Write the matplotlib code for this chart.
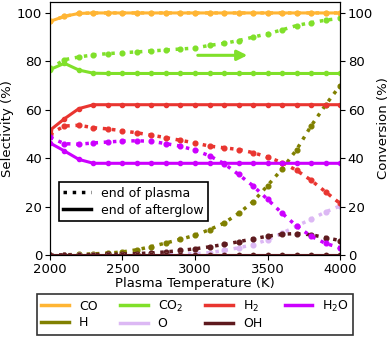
#!/usr/bin/env python

import numpy as np
import matplotlib
matplotlib.use('Agg')
import matplotlib.pyplot as plt
from matplotlib.lines import Line2D

###########################
## data

temps = [2000, 2100, 2200, 2300, 2400, 2500, 2600, 2700, 2800, 2900, 3000,
         3100, 3200, 3300, 3400, 3500, 3600, 3700, 3800, 3900, 4000]

## end of afterglow (solid)
co_after  = [96.5, 98.6, 99.8, 100, 100, 100, 100, 100, 100, 100, 100,
             100, 100, 100, 100, 100, 100, 100, 100, 100, 100]
co2_after = [76.6, 79.2, 76.4, 75.1, 75, 75, 75, 75, 75, 75, 75,
             75, 75, 75, 75, 75, 75, 75, 75, 75, 75]
h2_after  = [51.5, 56.3, 60.5, 62.1, 62.1, 62.1, 62.1, 62.1, 62.1, 62.1, 62.1,
             62.1, 62.1, 62.1, 62.1, 62.1, 62.1, 62.1, 62.1, 62.1, 62.1]
h2o_after = [46.3, 43.0, 39.5, 37.9, 37.9, 37.9, 37.9, 37.9, 37.9, 37.9, 37.9,
             37.9, 37.9, 37.9, 37.9, 37.9, 37.9, 37.9, 37.9, 37.9, 37.9]
h_after   = [0] * 21
o_after   = [0] * 21
oh_after  = [0] * 21

## end of plasma (dotted)
co_plasma  = [96.5, 98.6, 99.8, 100, 100, 100, 100, 100, 100, 100, 100,
              100, 100, 100, 100, 100, 100, 100, 100, 100, 100]
co2_plasma = [77.0, 80.7, 81.8, 82.7, 83.2, 83.6, 83.9, 84.3, 84.7, 85.1, 85.5,
              86.6, 87.4, 88.6, 90.0, 91.4, 93.0, 94.8, 96.0, 97.0, 97.8]
h2_plasma  = [50.0, 53.3, 53.6, 52.6, 52.1, 51.3, 50.5, 49.5, 48.5, 47.4, 46.3,
              45.0, 44.3, 43.6, 42.3, 40.5, 38.2, 35.0, 30.9, 26.1, 21.3]
h2o_plasma = [48.6, 46.0, 45.8, 46.3, 46.7, 47.1, 47.2, 47.0, 46.0, 45.0, 43.3,
              41.0, 37.8, 33.3, 28.6, 23.0, 17.3, 12.0, 7.8, 4.8, 3.0]
h_plasma   = [0.0, 0.1, 0.3, 0.5, 0.8, 1.3, 2.2, 3.5, 5.0, 6.5, 8.2,
              10.5, 13.2, 17.2, 22.0, 28.7, 35.5, 43.5, 53.3, 62.0, 70.0]
o_plasma   = [0.0, 0.0, 0.0, 0.0, 0.0, 0.1, 0.1, 0.2, 0.3, 0.4, 0.6,
              1.0, 1.9, 3.0, 4.3, 6.3, 9.0, 12.0, 14.8, 17.8, 20.3]
oh_plasma  = [0.0, 0.1, 0.1, 0.2, 0.3, 0.4, 0.6, 0.9, 1.3, 1.9, 2.6,
              3.4, 4.4, 5.5, 6.7, 7.8, 8.6, 8.9, 8.4, 7.2, 6.0]

species = ['CO', 'H', 'CO$_2$', 'O', 'H$_2$', 'OH', 'H$_2$O']
colors  = ['#ffb534', '#808000', '#80e02a', '#dcb8f4', '#e93530', '#5e1a1e', '#cc00ff']
after   = [co_after, h_after, co2_after, o_after, h2_after, oh_after, h2o_after]
plasma  = [co_plasma, h_plasma, co2_plasma, o_plasma, h2_plasma, oh_plasma, h2o_plasma]

#############################

fig = plt.figure(figsize=(3.9, 3.41), dpi=100)
ax = fig.add_axes([0.128, 0.252, 0.744, 0.742])
ax2 = ax.twinx()

handles = []
for name, c, ya, yp in zip(species, colors, after, plasma):
    ax.plot(temps, yp, ':', color=c, lw=2.5, marker='o', ms=3.4, zorder=2)
    ax.plot(temps, ya, '-', color=c, lw=2.2, marker='o', ms=3, zorder=3)
    handles.append(Line2D([0], [0], color=c, lw=2.5, label=name))

## arrow pointing to the conversion axis
ax.annotate('', xy=(3380, 82.5), xytext=(3000, 82.5),
            arrowprops=dict(arrowstyle='-|>', color='#80e02a', lw=2.2,
                            mutation_scale=15))

ax.set_xlim(2000, 4000)
ax.set_ylim(0, 104.5)
ax2.set_ylim(0, 104.5)
ax.set_xticks([2000, 2500, 3000, 3500, 4000])
ax.set_yticks([0, 20, 40, 60, 80, 100])
ax2.set_yticks([0, 20, 40, 60, 80, 100])
ax.tick_params(labelsize=9.5, pad=2)
ax2.tick_params(labelsize=9.5, pad=2)

ax.set_xlabel('Plasma Temperature (K)', fontsize=9.5, labelpad=1)
ax.set_ylabel('Selectivity (%)', fontsize=9.5, labelpad=2)
ax2.set_ylabel('Conversion (%)', fontsize=9.5, labelpad=3)

## line style legend
style = [Line2D([0], [0], color='k', ls=':', lw=2.5, label='end of plasma'),
         Line2D([0], [0], color='k', ls='-', lw=2.5, label='end of afterglow')]
leg1 = ax2.legend(handles=style, loc='lower left', bbox_to_anchor=(0.01, 0.11),
                  fontsize=9, fancybox=False, edgecolor='k', framealpha=1,
                  handlelength=2.2, borderpad=0.35, labelspacing=0.3)
leg1.get_frame().set_linewidth(1.2)

## species legend below the axes
leg2 = fig.legend(handles=handles, loc='lower center', bbox_to_anchor=(0.5, 0.0),
                  ncol=4, fontsize=9, fancybox=False, edgecolor='k',
                  handlelength=2.2, columnspacing=1.8, borderpad=0.35,
                  labelspacing=0.3)
leg2.get_frame().set_linewidth(1.2)

plt.savefig('out.png', dpi=100)
